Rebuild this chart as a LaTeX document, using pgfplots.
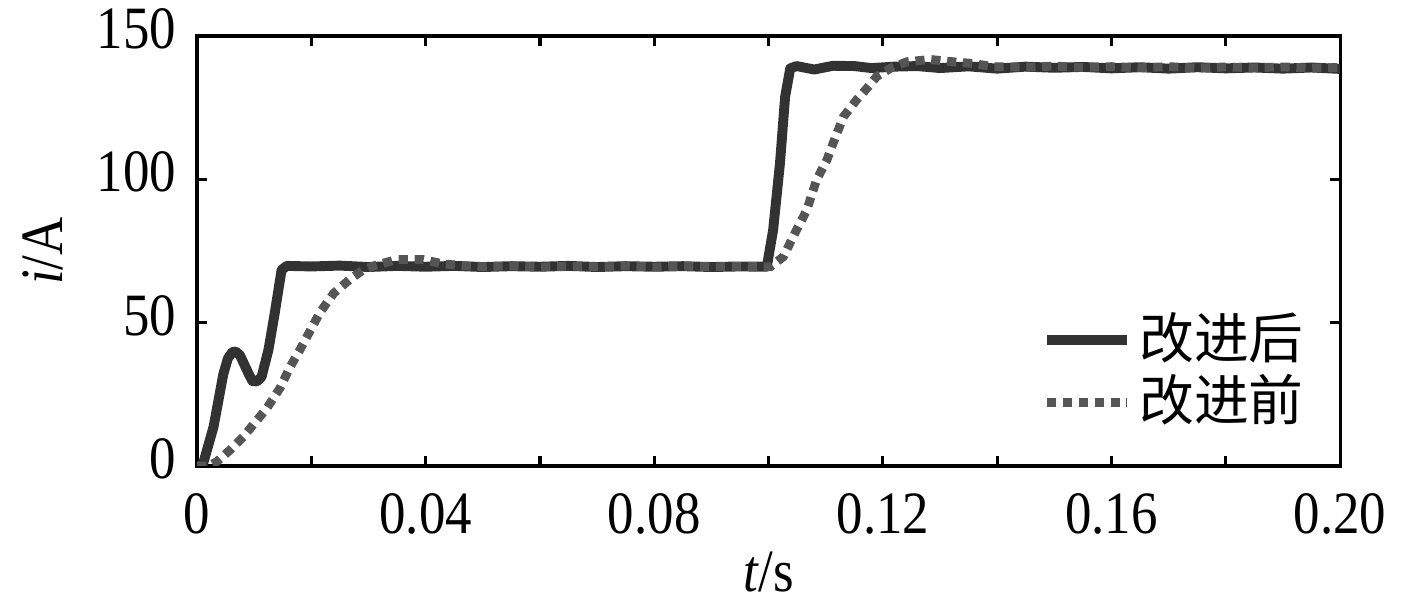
\documentclass[border=0pt]{standalone}
\usepackage{fontspec}
\setmainfont[FakeStretch=0.88]{Liberation Serif}
\newfontfamily\cjk{Noto Sans CJK SC}
\usepackage{pgfplots}
\pgfplotsset{compat=1.18}
\definecolor{after}{RGB}{50,50,50}
\definecolor{before}{RGB}{85,85,85}

\begin{document}
\fontsize{17pt}{20pt}\selectfont
\begin{tikzpicture}
\def\px{0.283pt}
\begin{axis}[
  scale only axis,
  width=323.5pt, height=121.7pt,
  xmin=0, xmax=0.2, ymin=0, ymax=150,
  xtick={0,0.04,...,0.2},
  xticklabels={0,0.04,0.08,0.12,0.16,0.20},
  minor xtick={0.02,0.06,...,0.19},
  ytick={0,50,100,150},
  tick align=inside,
  major tick length=2.8pt, minor tick length=2.8pt,
  every tick/.style={black, line width=0.9pt},
  axis line style={black, line width=0.9pt},
  /pgf/number format/assume math mode=true,
  tick label style={font=\fontsize{17pt}{20pt}\selectfont},
  xticklabel style={yshift=-2pt},
  yticklabel style={yshift=2pt},
  xlabel={\textit{t}/s}, ylabel={\textit{i}/A},
  xlabel style={yshift=6.5pt},
  ylabel style={yshift=-2pt},
  legend style={draw=none, fill=none, at={(0.975,0.375)}, anchor=north east,
    font=\cjk\fontsize{15.5pt}{18pt}\selectfont, row sep=-2pt,
    inner sep=0pt},
  legend cell align=left,
  legend image code/.code={\draw[#1] (0cm,0cm) -- (0.8cm,0cm);},
]
\addplot[after, line width=2.8pt, line join=round] coordinates {
(0,0)(0.0008,0)(0.0011,1)(0.0029,13.7)(0.0046,32)(0.0054,37.5)(0.0062,39.8)
(0.0068,39.9)(0.0075,38.7)(0.009,32.3)(0.0097,29.6)(0.0105,29.5)(0.0113,31.1)(0.0125,40.5)(0.0136,53.3)
(0.0148,68.4)(0.0157,69.8)(0.02,69.6)(0.025,69.9)(0.03,69.4)(0.035,69.8)
(0.04,69.5)(0.045,69.8)(0.05,69.4)(0.055,69.7)(0.06,69.5)(0.065,69.8)
(0.07,69.4)(0.075,69.7)(0.08,69.5)(0.085,69.7)(0.09,69.4)(0.095,69.6)
(0.0997,69.5)(0.1008,82.3)(0.102,105.6)(0.1029,128.8)(0.1038,138.7)
(0.1049,139.5)(0.108,138.3)(0.1113,139.6)(0.115,139.5)(0.118,138.8)(0.122,139.3)
(0.126,139.5)(0.13,138.8)(0.135,139.4)(0.14,138.6)(0.145,139.3)(0.15,138.9)
(0.155,139.2)(0.16,138.7)(0.165,139.1)(0.17,138.6)(0.175,139.1)(0.18,138.7)
(0.185,139)(0.19,138.6)(0.195,139)(0.2,138.5)
};
\addlegendentry{改进后}
\addplot[before, line width=2.5pt, dash pattern=on 2.6pt off 1.9pt] coordinates {
(0,0)(0.002,0)(0.00345,1.5)(0.0058,5.6)(0.0081,10.2)(0.0105,16)(0.0122,20.1)
(0.0145,27.1)(0.0163,34.6)(0.018,40.5)(0.0198,47.2)(0.0215,53.5)(0.0239,60.2)
(0.0268,65.2)(0.0291,68.4)(0.0314,70.1)(0.0349,72)(0.0396,72)(0.043,70.5)
(0.047,69.8)(0.05,69.5)(0.055,69.8)(0.06,69.4)(0.065,69.7)(0.07,69.5)
(0.075,69.8)(0.08,69.4)(0.085,69.7)(0.09,69.5)(0.095,69.6)(0.1003,69.5)
(0.1026,73)(0.1043,80)(0.1067,89.3)(0.1084,99.8)(0.1102,106.7)(0.1113,112.6)
(0.1131,121.8)(0.1154,127.7)(0.1172,131.7)(0.1189,135.8)(0.1213,138.7)
(0.1242,141)(0.1283,141.8)(0.1323,141)(0.1358,140.4)(0.1393,139.3)
(0.145,139.1)(0.15,139.5)(0.155,139)(0.16,139.3)(0.165,138.9)(0.17,139.3)
(0.175,138.8)(0.18,139.2)(0.185,138.9)(0.19,139.2)(0.195,138.8)(0.2,139)
};
\addlegendentry{改进前}
\end{axis}
\pgfresetboundingbox
\path[use as bounding box] (current axis.south west) ++(-197*\px,-136*\px) rectangle ++(1417*\px,602*\px);
\end{tikzpicture}
\end{document}
